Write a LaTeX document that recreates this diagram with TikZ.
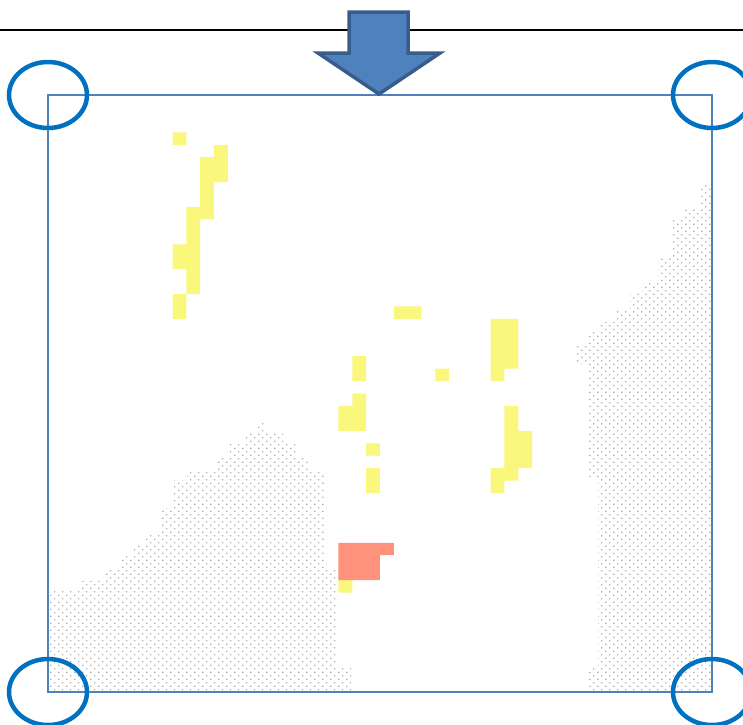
\documentclass[tikz,border=0pt]{standalone}
\usepackage{tikz}
\usetikzlibrary{shapes.geometric, patterns.meta}
\usepackage{xcolor}
\definecolor{frameblue}{RGB}{79,129,189}
\definecolor{ringblue}{RGB}{0,112,192}
\definecolor{arrowfill}{RGB}{79,129,189}
\definecolor{arrowedge}{RGB}{56,93,138}
\definecolor{cellyellow}{RGB}{250,247,125}
\definecolor{cellsalmon}{RGB}{255,146,124}
\tikzdeclarepattern{
  name=stipple,
  type=uncolored,
  bounding box={(0pt,0pt) and (8.3pt,7.4pt)},
  tile size={(8.3pt,7.4pt)},
  code={
    \pgfpathcircle{\pgfpoint{2pt}{1.85pt}}{0.75pt}
    \pgfpathcircle{\pgfpoint{6.15pt}{5.55pt}}{0.75pt}
    \pgfusepath{fill}
  }
}

\begin{document}
\begin{tikzpicture}[x=1pt, y=-1pt,
    frame/.style={draw=frameblue, line width=1.8pt},
    ring/.style={draw=ringblue, ellipse, line width=4.5pt, minimum width=78pt, minimum height=66pt, inner sep=0pt},
    hit/.style={fill=cellyellow},
    hot/.style={fill=cellsalmon},
    stip/.style={pattern=stipple, pattern color=gray!85},
    marker/.style={fill=arrowfill, draw=arrowedge, line width=3.5pt, line join=miter}
]
\useasboundingbox (0,0) rectangle (743,724);

\coordinate (nw) at (48,95);
\coordinate (ne) at (712,95);
\coordinate (sw) at (48,692);
\coordinate (se) at (712,692);
\coordinate (ruleL) at (0,30);
\coordinate (ruleR) at (743,30);

\fill[stip] (48,692) -- (48,591) -- (81,591) -- (81,581) -- (103,581) -- (103,570)
  -- (119,570) -- (119,555) -- (132,555) -- (132,544) -- (145,544) -- (145,533)
  -- (160,533) -- (160,508) -- (173,508) -- (173,480) -- (187,480) -- (187,470)
  -- (215,470) -- (215,458) -- (228,458) -- (228,443) -- (245,443) -- (245,432)
  -- (257,432) -- (257,421) -- (265,421) -- (265,432) -- (283,432) -- (283,443)
  -- (297,443) -- (297,458) -- (308,458) -- (308,470) -- (326,470) -- (326,568)
  -- (338,568) -- (338,666) -- (351,666) -- (351,692) -- cycle;
\fill[stip] (712,183) -- (700,183) -- (700,208) -- (683,208) -- (683,220) -- (672,220)
  -- (672,257) -- (658,257) -- (658,283) -- (642,283) -- (642,293) -- (630,293)
  -- (630,310) -- (617,310) -- (617,322) -- (600,322) -- (600,332) -- (588,332)
  -- (588,345) -- (576,345) -- (576,364) -- (588,364) -- (588,478) -- (598,478)
  -- (598,667) -- (587,667) -- (587,692) -- (712,692) -- cycle;

\begin{scope}[shift={(48,95)}, x=13.833pt, y=-12.4375pt]
\fill[hit] \foreach \i/\j/\w/\h in {9/3/1/1, 12/4/1/3, 11/5/1/5, 10/9/1/7, 9/12/1/2, 9/16/1/2,
    25/17/2/1, 22/21/1/2, 28/22/1/1, 32/18/2/4, 32/22/1/1, 22/24/1/3, 21/25/1/2,
    23/28/1/1, 23/30/1/2, 33/25/1/6, 34/27/1/3, 32/30/1/2, 21/39/1/1}
  {(\i,\j) rectangle ++(\w,\h)};
\fill[hot] (21,36) -- (25,36) -- (25,37) -- (24,37) -- (24,39) -- (21,39) -- cycle;
\end{scope}

\draw[frame] (nw) rectangle (se);

\node[ring] (ringNW) at (nw) {};
\node[ring] (ringNE) at (ne) {};
\node[ring] (ringSW) at (sw) {};
\node[ring] (ringSE) at (se) {};

\draw[line width=2.6pt] (ruleL) -- (ruleR);

\draw[marker] (349,12) -- (408,12) -- (408,53) -- (440,53) -- (379,94)
  -- (318,53) -- (349,53) -- cycle;
\end{tikzpicture}
\end{document}
